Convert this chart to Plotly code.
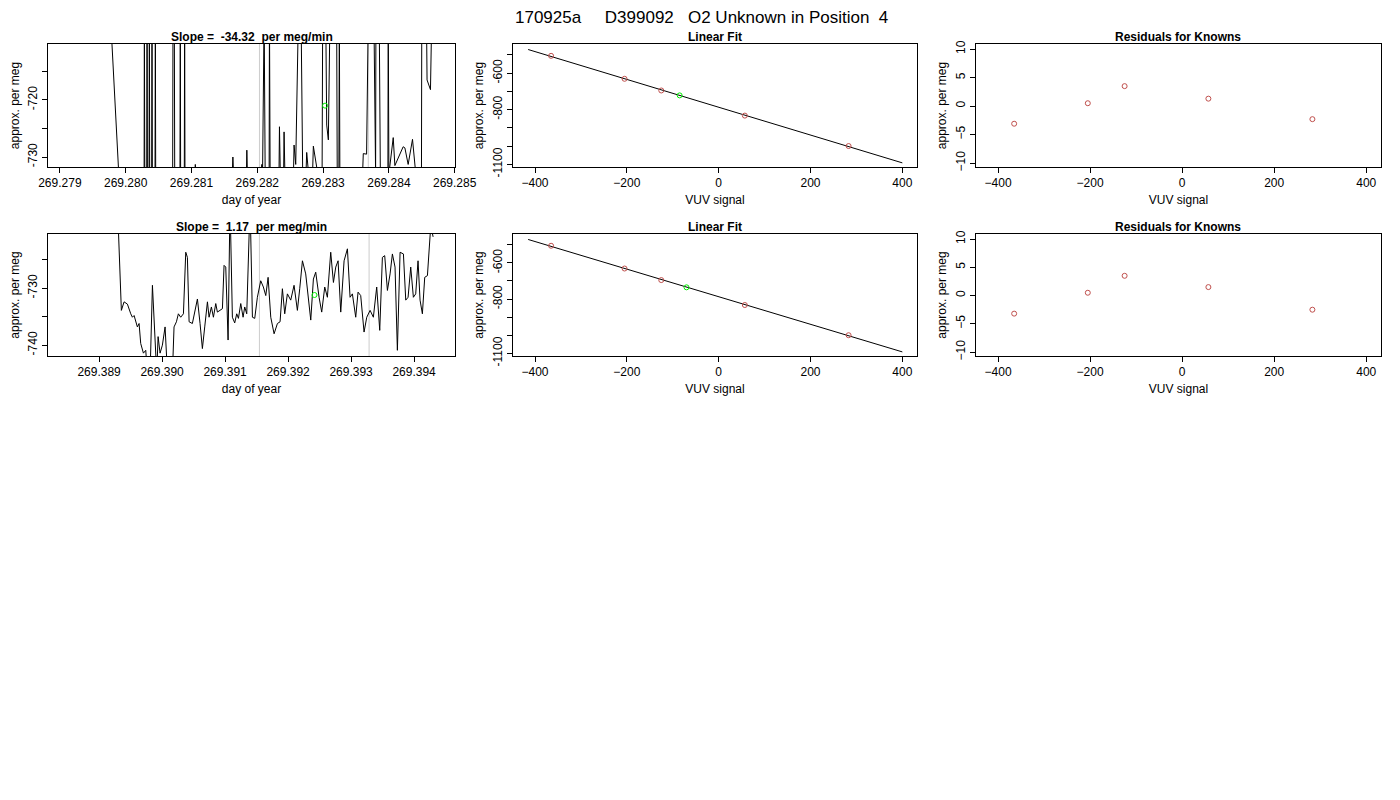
import numpy as np
import plotly.graph_objects as go

title = "170925a     D399092   O2 Unknown in Position  4"

# top time series
t1 = [269.279768,269.279895,269.280280,269.280284,269.280290,269.280320,269.280325,269.280330,269.280355,269.280360,
      269.280365,269.280395,269.280400,269.280405,269.280446,269.280451,269.280456,269.280714,269.280719,269.280739,
      269.280745,269.280825,269.280830,269.280835,269.280891,269.280896,269.280901,269.281050,269.281058,269.281070,
      269.281620,269.281629,269.281640,269.281835,269.281841,269.281850,269.282060,269.282069,269.282080,269.282104,
      269.282120,269.282180,269.282185,269.282195,269.282330,269.282337,269.282350,269.282400,269.282407,269.282420,
      269.282550,269.282559,269.282584,269.282625,269.282665,269.282690,269.282740,269.282751,269.282780,269.282840,
      269.282852,269.282903,269.282920,269.282985,269.282994,269.283040,269.283055,269.283080,269.283105,269.283206,
      269.283215,269.283240,269.283247,269.283255,269.283600,269.283611,269.283661,269.283687,269.283772,269.283790,
      269.283798,269.283803,269.283853,269.283870,269.283985,269.283990,269.284000,269.284066,269.284091,269.284217,
      269.284243,269.284293,269.284359,269.284409,269.284495,269.284500,269.284571,269.284580,269.284632,269.284652]
v1 = [-705,-733,-733,-705,-733,-733,-705,-733,-733,-705,
      -733,-733,-705,-733,-733,-705,-733,-733,-705,-705,
      -733,-733,-705,-733,-733,-705,-733,-733,-731.3,-733,
      -733,-730,-733,-733,-728.8,-733,-733,-731.3,-733,-705,
      -733,-733,-705,-733,-733,-724.7,-733,-733,-725.6,-733,
      -733,-727.9,-731.3,-705,-705,-733,-733,-729.2,-733,-733,
      -728.1,-731,-733,-733,-705,-705,-724.4,-727.0,-705,-705,
      -733,-733,-705,-733,-733,-729.4,-729.5,-705,-705,-733,
      -733,-705,-705,-733,-733,-705,-733,-726.6,-731.5,-728.2,
      -728.4,-731.3,-726.9,-733,-733,-705,-705,-716.5,-718.2,-705]
ref1 = [269.282033, 269.283687]
unk1_t, unk1_v = [269.28303], [-721.0]

# bottom time series (offsets in 1e-3 day from 269.389)
dt2 = [0.291,0.354,0.397,0.450,0.503,0.529,0.556,0.608,0.635,0.661,0.704,0.741,0.767,0.810,0.847,0.884,0.915,0.937,0.968,1.005,
       1.048,1.085,1.138,1.164,1.190,1.228,1.259,1.296,1.339,1.376,1.402,1.429,1.481,1.534,1.561,1.603,1.640,1.677,1.720,1.746,
       1.783,1.815,1.852,1.878,1.921,1.958,1.984,2.011,2.048,2.079,2.116,2.153,2.185,2.212,2.249,2.286,2.312,2.344,2.397,2.434,
       2.471,2.513,2.566,2.608,2.646,2.683,2.725,2.778,2.831,2.873,2.910,2.947,2.989,3.042,3.095,3.148,3.185,3.228,3.280,3.317,
       3.360,3.402,3.439,3.492,3.534,3.582,3.624,3.677,3.720,3.757,3.794,3.836,3.889,3.942,3.984,4.021,4.074,4.111,4.153,4.206,
       4.249,4.302,4.354,4.407,4.455,4.497,4.534,4.577,4.619,4.656,4.698,4.735,4.778,4.831,4.868,4.905,4.947,4.989,5.026,5.063,
       5.095,5.132,5.169,5.212,5.265,5.302]
v2 = [-715,-733.9,-732.4,-732.8,-734.5,-735.1,-734.8,-736.8,-736.2,-739.7,-741.4,-740.9,-745,-745,-729.5,-736.8,-745,-738.5,-741.4,-740.0,
      -736.8,-745,-745,-745,-736.8,-735.9,-734.5,-735.1,-734.5,-723.7,-724.6,-735.9,-736.2,-733.3,-731.9,-736.2,-740.6,-736.8,-732.4,-735.1,
      -733.3,-735.1,-732.7,-734.2,-733.9,-733.6,-726.0,-726.3,-739.1,-715,-735.1,-736.1,-734.5,-735.3,-732.7,-735.1,-733.3,-734.5,-715,-735.1,
      -735.3,-731.6,-728.7,-729.8,-731.3,-728.1,-735.1,-738.0,-736.2,-735.9,-730.1,-734.5,-731.0,-732.1,-729.5,-733.9,-730.1,-725.2,-727.5,-731.3,
      -735.6,-728.4,-727.2,-731.6,-734.2,-729.8,-731.6,-723.7,-729.0,-726.3,-725.2,-734.2,-725.2,-723.1,-731.6,-731.0,-735.1,-730.7,-731.3,-737.7,
      -735.1,-733.9,-735.1,-729.8,-737.4,-724.6,-724.3,-730.4,-727.5,-724.0,-726.3,-740.9,-723.7,-724.0,-732.1,-731.6,-726.3,-731.6,-731.0,-725.2,
      -732.1,-734.5,-728.1,-727.8,-719.0,-721.0]
t2 = [269.389 + d / 1000 for d in dt2]
ref2 = [269.391545, 269.393286]
unk2_t, unk2_v = [269.39242], [-731.2]

# linear fit panels
known_x = [-365, -205, -125, 57, 283]
known_y1 = [-505, -631, -695, -833, -1000]
known_y2 = [-505, -631, -695, -833, -1000]
unk_fit_x1, unk_fit_y1 = [-85], [-722]
unk_fit_x2, unk_fit_y2 = [-70], [-735]
resid1 = [-3.1, 0.5, 3.5, 1.3, -2.3]
resid2 = [-3.2, 0.5, 3.5, 1.5, -2.5]

RED = "#c0504d"
GREEN = "#00ee00"
FONT = "Liberation Sans, Arial, sans-serif"

fig = go.Figure()
dx, dy = 7 / 1400, 6 / 800
xd = [(0.0336 - dx, 0.3243 - dx), (0.3657 - dx, 0.6543 - dx), (0.6964 - dx, 0.9857 - dx)]
yd = [(0.79375 + dy, 0.9475 + dy), (0.5575 + dy, 0.71 + dy)]

def ax_common():
    return dict(showline=True, mirror=True, linecolor="black", linewidth=1, ticks="outside",
                ticklen=5, tickcolor="black", showgrid=False, zeroline=False, automargin=False,
                tickfont=dict(size=12, color="black"), title_font=dict(size=12, color="black"))

layout = {}
n = 0
panels = []
for r in range(2):
    for c in range(3):
        n += 1
        xa = "xaxis" if n == 1 else f"xaxis{n}"
        ya = "yaxis" if n == 1 else f"yaxis{n}"
        xr = "x" if n == 1 else f"x{n}"
        yr = "y" if n == 1 else f"y{n}"
        layout[xa] = dict(domain=xd[c], anchor=yr, **ax_common())
        layout[ya] = dict(domain=yd[r], anchor=xr, tickangle=-90, **ax_common())
        panels.append((xr, yr, xa, ya))

def line(x, y, p, **kw):
    fig.add_trace(go.Scatter(x=x, y=y, xaxis=p[0], yaxis=p[1], showlegend=False, **kw))

for i, (t, v, ref, ut, uv, yr, tv, tt, xrng, xt) in enumerate([
        (t1, v1, ref1, unk1_t, unk1_v, [-731.75, -710.2], [-730, -725, -720, -715], ["-730", "", "-720", ""],
         [269.27882, 269.285005], [269.279 + k * 0.001 for k in range(7)]),
        (t2, v2, ref2, unk2_t, unk2_v, [-741.9, -720.5], [-740, -735, -730, -725], ["-740", "", "-730", ""],
         [269.38819, 269.39465], [269.389 + k * 0.001 for k in range(6)])]):
    p = panels[i * 3]
    for rx in ref:
        line([rx, rx], yr, p, mode="lines", line=dict(color="#cccccc", width=1))
    line(t, v, p, mode="lines", line=dict(color="black", width=1))
    line(ut, uv, p, mode="markers", marker=dict(symbol="circle-open", color=GREEN, size=5))
    layout[p[2]].update(range=xrng, tickvals=xt, ticktext=[f"{x:.3f}" for x in xt], title_text="day of year", title_standoff=6)
    layout[p[3]].update(range=yr, tickvals=tv, ticktext=tt, title_text="approx. per meg", title_standoff=4)

for i, (ky, ux, uy) in enumerate([(known_y1, unk_fit_x1, unk_fit_y1), (known_y2, unk_fit_x2, unk_fit_y2)]):
    p = panels[i * 3 + 1]
    m, b = np.polyfit(known_x, ky, 1)
    lx = np.array([-415, 400])
    line(lx, m * lx + b, p, mode="lines", line=dict(color="black", width=1))
    line(known_x, ky, p, mode="markers", marker=dict(symbol="circle-open", color=RED, size=5))
    line(ux, uy, p, mode="markers", marker=dict(symbol="circle-open", color=GREEN, size=5))
    layout[p[2]].update(range=[-448, 432], tickvals=[-400, -200, 0, 200, 400], title_text="VUV signal", title_standoff=6)
    layout[p[3]].update(range=[-1115, -440], tickvals=[-1100, -1000, -900, -800, -700, -600, -500],
                        ticktext=["-1100", "", "", "-800", "", "-600", ""], title_text="approx. per meg", title_standoff=4)

for i, res in enumerate([resid1, resid2]):
    p = panels[i * 3 + 2]
    line(known_x, res, p, mode="markers", marker=dict(symbol="circle-open", color=RED, size=5))
    layout[p[2]].update(range=[-448, 432], tickvals=[-400, -200, 0, 200, 400], title_text="VUV signal", title_standoff=6)
    layout[p[3]].update(range=[-10.7, 10.9], tickvals=[-10, -5, 0, 5, 10], title_text="approx. per meg", title_standoff=4)

titles = ["Slope =  -34.32  per meg/min", "Linear Fit", "Residuals for Knowns",
          "Slope =  1.17  per meg/min", "Linear Fit", "Residuals for Knowns"]
ann = []
for k, tt in enumerate(titles):
    r, c = divmod(k, 3)
    ann.append(dict(text=f"<b>{tt}</b>", x=(xd[c][0] + xd[c][1]) / 2, y=yd[r][1], xref="paper", yref="paper",
                    yanchor="bottom", xanchor="center", yshift=-1, borderpad=0, showarrow=False,
                    font=dict(size=12, color="black")))
ann.append(dict(text=title, x=0.5 - dx, y=1, xref="paper", yref="paper", yanchor="top", yshift=1, borderpad=0,
                showarrow=False, font=dict(size=17, color="black")))

fig.update_layout(width=1400, height=800, margin=dict(l=0, r=0, t=0, b=0, autoexpand=False), plot_bgcolor="white",
                  paper_bgcolor="white", font=dict(family=FONT, color="black"), annotations=ann, **layout)
fig.write_html("out.html")
